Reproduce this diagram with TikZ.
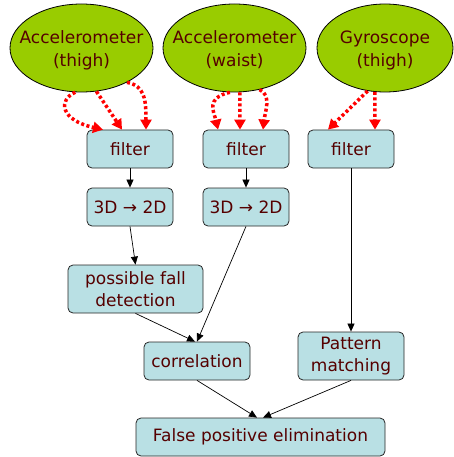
\documentclass[tikz,border=0pt]{standalone}
\usepackage{fontspec}
\setmainfont{DejaVu Sans}
\usetikzlibrary{arrows.meta,shapes.geometric}
\definecolor{txt}{HTML}{550000}
\definecolor{sensorgreen}{HTML}{99CC00}
\definecolor{boxblue}{HTML}{B9E0E4}
\definecolor{dotred}{HTML}{FF0000}
\begin{document}
\begin{tikzpicture}[x=1pt,y=-1pt,
  sensor/.style={ellipse, draw=black, line width=0.8pt, fill=sensorgreen, inner sep=0pt},
  sensortext/.style={text=txt, font=\fontsize{17}{23}\selectfont, align=center, inner sep=0pt},
  stepbox/.style={rectangle, rounded corners=5pt, draw=black!85, line width=0.8pt, fill=boxblue, text=txt, font=\fontsize{17}{22}\selectfont, align=center, inner sep=0pt},
  flow/.style={-{Triangle[length=8pt,width=7pt]}, line width=0.7pt},
  feed/.style={dotred, line width=3.5pt, dash pattern=on 3pt off 2.5pt, -{Triangle[length=10pt,width=11pt]}}]
\useasboundingbox (0,0) rectangle (454,457);

% sensors
\node[sensor, minimum width=143pt, minimum height=88pt] (acct) at (81.5,48) {};
\node[sensortext] (acct-t) at (81.5,50) {Accelerometer\\(thigh)};
\node[sensor, minimum width=143pt, minimum height=88pt] (accw) at (234.5,48) {};
\node[sensortext] (accw-t) at (234.5,50) {Accelerometer\\(waist)};
\node[sensor, minimum width=136pt, minimum height=88pt] (gyro) at (385,48) {};
\node[sensortext] (gyro-t) at (385,50) {Gyroscope\\(thigh)};

% boxes
\node[stepbox, minimum width=86pt, minimum height=38pt] (f1) at (130,149) {filter};
\node[stepbox, minimum width=86pt, minimum height=38pt] (f2) at (246,149) {filter};
\node[stepbox, minimum width=86pt, minimum height=38pt] (f3) at (351,149) {filter};
\node[stepbox, minimum width=86pt, minimum height=38pt] (d1) at (130,207) {3D → 2D};
\node[stepbox, minimum width=86pt, minimum height=38pt] (d2) at (246,207) {3D → 2D};
\node[stepbox, minimum width=135pt, minimum height=48pt] (pfd) at (135.5,289) {possible fall\\detection};
\node[stepbox, minimum width=106pt, minimum height=38pt] (corr) at (197,361) {correlation};
\node[stepbox, minimum width=106pt, minimum height=48pt] (pat) at (351,356) {Pattern\\matching};
\node[stepbox, minimum width=249pt, minimum height=38pt] (fpe) at (260.5,437) {False positive elimination};

% red dotted feeds
\draw[feed] (acct.262) .. controls (58,100) and (60,120) .. ([xshift=-27pt]f1.north);
\draw[feed] (acct.289) -- ([xshift=-8pt]f1.north);
\draw[feed] (acct.323) .. controls (145,86) and (146,100) .. ([xshift=16pt]f1.north);
\draw[feed] (accw.264) .. controls (205,98) and (214,112) .. ([xshift=-28pt]f2.north);
\draw[feed] (accw.277) -- ([xshift=-6pt]f2.north);
\draw[feed] (accw.301) .. controls (272,95) and (265,112) .. ([xshift=17pt]f2.north);
\draw[feed] (gyro.248) -- ([xshift=-23pt]f3.north);
\draw[feed] (gyro.257) -- ([xshift=24pt]f3.north);

% black flow
\draw[flow] (f1) -- (d1);
\draw[flow] (f2) -- (d2);
\draw[flow] (d1.south) -- (pfd.north);
\draw[flow] (d2.south) -- (corr.north);
\draw[flow] (pfd.south) -- ([xshift=-2pt]corr.north);
\draw[flow] (f3) -- (pat);
\draw[flow] (corr.south) -- ([xshift=-3.5pt]fpe.north);
\draw[flow] (pat.south) -- ([xshift=2.5pt]fpe.north);
\end{tikzpicture}
\end{document}
